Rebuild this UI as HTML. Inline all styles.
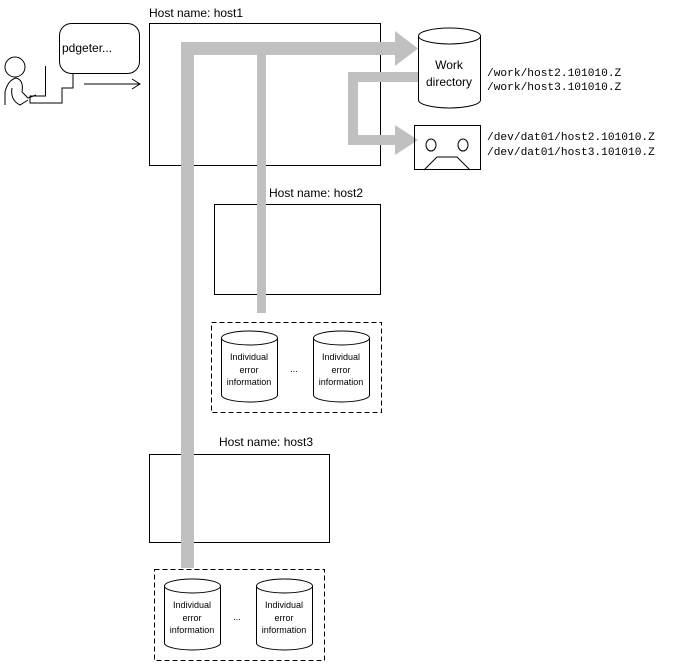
<!DOCTYPE html>
<html><head><meta charset="utf-8"><style>
html,body{margin:0;padding:0;background:#fff}
svg{display:block}
text{font-family:"Liberation Sans",sans-serif;font-size:12px;fill:#000}
.m{font-family:"Liberation Mono",monospace;font-size:11.2px}
.s{font-size:9px}
</style></head><body>
<svg width="683" height="669" viewBox="0 0 683 669">
<g fill="none" stroke="#000" stroke-width="1">
<rect x="59.5" y="23.5" width="80" height="50" rx="12"/>
<circle cx="15" cy="67" r="10"/>
<path d="M5 105 V92 Q8 80 16 78 Q24 80 22 92 L28 98 L36 95 M12 88 Q10 100 20 105 L28 100"/>
<path d="M45.5 66 V96 H30 V103 H62 V88 H73 V74"/>
<path d="M84 84 H140 M132 79 L140 84 L132 89"/>
</g>
<text x="62" y="52">pdgeter...</text>
<text x="149" y="17">Host name: host1</text>
<rect x="149.5" y="23.5" width="231" height="142" fill="none" stroke="#000"/>
<text x="269" y="197">Host name: host2</text>
<rect x="214.5" y="204.5" width="166" height="90" fill="none" stroke="#000"/>
<text x="219" y="446">Host name: host3</text>
<rect x="149.5" y="454.5" width="180" height="88" fill="none" stroke="#000"/>
<g fill="#c0c0c0">
<rect x="181" y="42" width="13" height="526"/>
<rect x="181" y="42" width="215" height="13"/>
<polygon points="395,31 418,48.5 395,66"/>
<rect x="257" y="55" width="9" height="258"/>
<rect x="348" y="72" width="70" height="10"/>
<rect x="348" y="72" width="10" height="73"/>
<rect x="348" y="135" width="48" height="10"/>
<polygon points="395,125 418,140 395,155"/>
</g>
<g fill="#fff" stroke="#000">
<path d="M418.5 36 V100 A31 8 0 0 0 480.5 100 V36"/>
<ellipse cx="449.5" cy="36" rx="31" ry="8"/>
</g>
<text x="449" y="69" text-anchor="middle">Work</text>
<text x="449" y="86" text-anchor="middle">directory</text>
<g fill="none" stroke="#000">
<rect x="414.5" y="125.5" width="66" height="44"/>
<ellipse cx="431" cy="145" rx="5" ry="6"/>
<ellipse cx="463" cy="145" rx="5" ry="6"/>
<path d="M424 170 L437 157 H457 L470 170"/>
</g>
<text class="m" x="487" y="76">/work/host2.101010.Z</text>
<text class="m" x="487" y="90">/work/host3.101010.Z</text>
<text class="m" x="487" y="140">/dev/dat01/host2.101010.Z</text>
<text class="m" x="487" y="155">/dev/dat01/host3.101010.Z</text>
<rect x="211.5" y="322.5" width="170" height="90" fill="none" stroke="#000" stroke-dasharray="5,3"/>
<g fill="#fff" stroke="#000">
<path d="M221.5 338 V395 A28 7 0 0 0 277.5 395 V338"/><ellipse cx="249.5" cy="338" rx="28" ry="7"/>
<path d="M313.5 338 V395 A28 7 0 0 0 369.5 395 V338"/><ellipse cx="341.5" cy="338" rx="28" ry="7"/>
</g>
<text class="s" x="249" y="360" text-anchor="middle">Individual</text><text class="s" x="249" y="373" text-anchor="middle">error</text><text class="s" x="249" y="385" text-anchor="middle">information</text>
<text class="s" x="341" y="360" text-anchor="middle">Individual</text><text class="s" x="341" y="373" text-anchor="middle">error</text><text class="s" x="341" y="385" text-anchor="middle">information</text>
<text class="s" x="294" y="372" text-anchor="middle">...</text>
<rect x="154.5" y="569.5" width="170" height="91" fill="none" stroke="#000" stroke-dasharray="5,3"/>
<g fill="#fff" stroke="#000">
<path d="M164.5 586 V643 A28 7 0 0 0 220.5 643 V586"/><ellipse cx="192.5" cy="586" rx="28" ry="7"/>
<path d="M256.5 586 V643 A28 7 0 0 0 312.5 643 V586"/><ellipse cx="284.5" cy="586" rx="28" ry="7"/>
</g>
<text class="s" x="192" y="608" text-anchor="middle">Individual</text><text class="s" x="192" y="621" text-anchor="middle">error</text><text class="s" x="192" y="633" text-anchor="middle">information</text>
<text class="s" x="284" y="608" text-anchor="middle">Individual</text><text class="s" x="284" y="621" text-anchor="middle">error</text><text class="s" x="284" y="633" text-anchor="middle">information</text>
<text class="s" x="237" y="620" text-anchor="middle">...</text>
</svg>
</body></html>
